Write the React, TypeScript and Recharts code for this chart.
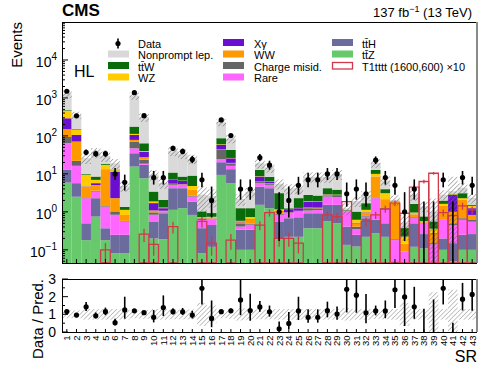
import React from 'react';
import { ComposedChart, Bar, Line, XAxis, YAxis, ErrorBar } from 'recharts';

// signal regions
const srLabels = [
  '1', '2', '3', '4', '5', '6', '7', '8', '9', '10', '11', '12', '13', '14', '15',
  '16', '17', '18', '19', '20', '21', '22', '23', '24', '25', '26', '27', '28', '29',
  '30', '31', '32', '33', '34', '35', '36', '37', '38', '39', '40', '41', '42', '43',
];

// background yields, bottom of the stack first
const ttZ = [5.9, 2.5, 0.18, 0.75, 0.18, 0.082, 0.082, 15.6, 7.7, 0.2, 0.19, 1.13, 1.25, 0.83, 0.082, 0.12, 9.4, 5.7, 0.1, 0.1, 1.53, 1.25, 0.2, 0.22, 0.22, 0.37, 0.37, 0.56, 0.5, 0.135, 0.122, 0.22, 0.275, 0.22, 0.03, 0.02, 0.12, 0.11, 0.02, 0.1, 0.05, 0.1, 0.1];
const ttH = [6.8, 3.2, 0.32, 1.54, 0.19, 0.166, 0.166, 19.4, 9.6, 0.36, 0.73, 3.07, 2.95, 1.04, 0.29, 0.33, 10.9, 7.6, 0.24, 0.24, 3.07, 2.95, 0.36, 0.46, 0.5, 0.55, 0.55, 0.97, 1.03, 0.275, 0.126, 0.46, 0.34, 0.28, 0.02, 0.02, 0.38, 0.15, 0.02, 0.1, 0.1, 0.15, 0.16];
const rare = [52, 10.6, 1.79, 1.13, 1.0, 0.59, 0.31, 12, 1.2, 0.28, 0.05, 0.94, 0.94, 0.66, 0.24, 0.16, 4.0, 3.0, 0.07, 0.12, 1.1, 0.94, 0.28, 0.24, 0.3, 0.16, 0.2, 1.0, 0.9, 0.6, 0.1, 0.07, 1.67, 0.63, 0.13, 0.05, 0.18, 0.24, 0.1, 0.42, 0.3, 0.37, 0.29];
const chargeMisId = [29, 5.7, 0.11, 0.18, 0.05, 0.19, 0.02, 24, 4.9, 0.13, 0.05, 0.26, 0.1, 0.12, 0.06, 0.02, 18.5, 2.7, 0.09, 0.03, 0.4, 0.3, 0.04, 0.03, 0.03, 0.17, 0.12, 0.17, 0.2, 0.02, 0.06, 0.03, 0.11, 0.12, 0.01, 0, 0.04, 0.02, 0.01, 0.014, 0.05, 0.06, 0.06];
const ww = [56, 49, 2.2, 1.5, 11.9, 1.27, 0.25, 7.5, 4.1, 0.12, 0.05, 0.1, 0.1, 1.14, 0.02, 0.02, 1.2, 0.5, 0.03, 0.13, 0.2, 0.2, 0.15, 0.02, 0.02, 0.05, 0.05, 0.05, 0.05, 0.02, 0.09, 0.18, 6.1, 0.82, 1.44, 0.054, 0.11, 0.02, 0.12, 0.81, 0.5, 1.39, 0.22];
const xGamma = [142, 35, 0.1, 0.6, 0, 9.2, 0, 27.5, 11.1, 0.61, 0.18, 1.45, 1.2, 0.05, 0.02, 0.02, 14, 6.3, 0.03, 0.02, 2.2, 0.7, 0.03, 0.21, 0.18, 0.57, 0.55, 0.1, 0.12, 0.02, 0.02, 0.02, 0.05, 0.05, 0.01, 0, 0.02, 0.01, 0.01, 0.01, 1.8, 0.02, 0.42];
const wz = [171, 38, 4.8, 1.25, 4.0, 1.0, 0.3, 7, 1.4, 0.18, 0.05, 0.1, 0.1, 0.96, 0.02, 0.07, 2, 0.5, 0.02, 0.09, 0.2, 0.1, 0.1, 0.02, 0.02, 0.05, 0.05, 0.05, 0.05, 0.02, 0.1, 0.15, 1.45, 0.98, 0.2, 0.08, 0.11, 0.02, 0.08, 0.17, 0.1, 0.2, 0.19];
const ttW = [17, 6, 0.4, 1.55, 1.2, 0.5, 0.23, 63, 24, 1.55, 0.77, 3.8, 1.86, 4.2, 0.3, 0.19, 27, 16.5, 0.67, 0.52, 4.0, 1.9, 1.95, 0.05, 1.03, 0.88, 0.8, 1.3, 1.0, 0.05, 0.4, 0.56, 2.7, 0.86, 0.05, 0.15, 0.66, 0.19, 0.2, 0.36, 0.1, 0.81, 0.11];
const nonprompt = [820, 205, 16.1, 28.5, 11.1, 6.0, 3.44, 974, 249, 6.2, 3.7, 30, 25.5, 16, 1.8, 1.67, 143, 42.2, 0.95, 2.05, 6.3, 6.5, 2.4, 2.85, 1.9, 5.6, 5.7, 4.1, 6.0, 0.1, 0.9, 1.06, 6.6, 2.74, 0.2, 0.13, 1.18, 0.64, 0.44, 0.85, 0.5, 1.2, 0.8];

// relative uncertainty on the total prediction
const relUnc = [0.22, 0.22, 0.3, 0.3, 0.3, 0.3, 0.3, 0.22, 0.25, 0.3, 0.3, 0.28, 0.28, 0.28, 0.65, 0.5, 0.22, 0.25, 0.35, 0.3, 0.28, 0.28, 0.3, 0.3, 0.3, 0.3, 0.3, 0.3, 0.3, 0.35, 0.3, 0.3, 0.25, 0.28, 0.3, 0.65, 0.3, 0.3, 1.25, 0.3, 1.4, 0.3, 0.3];

// T1tttt (1600,600) x10
const signal = [0, 0, 0, 0, 0.1, 0, 0, 0, 0.26, 0.14, 0, 0.41, 0, 0, 0.56, 0.15, 0, 0.18, 0, 0, 0.45, 0.95, 0.2, 0.2, 0.15, 0, 0, 0.83, 0.75, 1.87, 0, 0.56, 0.83, 1.2, 1.7, 0.92, 4.5, 6.3, 10.4, 0.95, 0.8, 1.44, 1.13];
const signalErr = [0, 0, 0, 0, 0.05, 0, 0, 0, 0.1, 0.07, 0, 0.14, 0, 0, 0.17, 0.08, 0, 0.08, 0, 0, 0.12, 0.2, 0.08, 0.08, 0.07, 0, 0, 0.2, 0.2, 0.35, 0, 0.15, 0.18, 0.25, 0.3, 0.2, 0.6, 0.7, 0.9, 0.2, 0.2, 0.3, 0.25];

// observed
const data = [1500, 340, 37, 34, 34, 10, 6, 1380, 342, 8, 8, 47, 39, 24, 7, 2, 264, 102, 4, 4, 27, 17, 1, 2, 5, 7, 7, 10, 10, 3, 4, 3, 23, 8, 5, 1, 4, 0, 0, 7, 0, 8, 5];
const dataErrLo = [38.2, 18.4, 6.1, 5.8, 5.8, 3.11, 2.38, 37.1, 18.5, 2.77, 2.77, 6.8, 6.2, 4.9, 2.58, 1.29, 16.2, 10.1, 1.91, 1.91, 5.2, 4.1, 0.83, 1.29, 2.16, 2.58, 2.58, 3.11, 3.11, 1.63, 1.91, 1.63, 4.8, 2.77, 2.16, 0.83, 1.91, 0, 0, 2.58, 0, 2.77, 2.16];
const dataErrHi = [39.2, 19.5, 7.1, 6.9, 6.9, 4.26, 3.58, 38.2, 19.5, 3.95, 3.95, 7.9, 7.3, 5.97, 3.77, 2.64, 17.3, 11.1, 3.16, 3.16, 6.26, 5.2, 2.3, 2.64, 3.38, 3.77, 3.77, 4.26, 4.26, 2.92, 3.16, 2.92, 5.86, 3.95, 3.38, 2.3, 3.16, 1.84, 1.84, 3.77, 1.84, 3.95, 3.38];

// axis ticks
const majorTicks = [0.1, 1, 10, 100, 1000, 10000];
const majorExp = ['\u22121', '0', '1', '2', '3', '4'];
const minorDecades = [0.01, 0.1, 1, 10, 100, 1000, 10000];
const minorMult = [2, 3, 4, 5, 6, 7, 8, 9];
const ratioTicks = [0, 0.5, 1, 1.5, 2, 2.5, 3];
const ratioLabels = ['0', '', '1', '', '2', '', '3'];

const Y_MIN = 0.045;
const Y_MAX = 100000;
const PL = 62;
const PR = 477;
const PT = 22;
const PB = 263;
const RT = 279;
const RB = 332;
const BAR_W = 9.64;
const FONT = '"Liberation Sans", Arial, Helvetica, sans-serif';

const layers = [
  { key: 'ttZ', values: ttZ, color: '#67c96b' },
  { key: 'ttH', values: ttH, color: '#6b6b9e' },
  { key: 'rare', values: rare, color: '#ff66ff' },
  { key: 'chargeMisId', values: chargeMisId, color: '#666666' },
  { key: 'ww', values: ww, color: '#ff9900' },
  { key: 'xGamma', values: xGamma, color: '#6a0fcf' },
  { key: 'wz', values: wz, color: '#ffcc00' },
  { key: 'ttW', values: ttW, color: '#0a6b0a' },
  { key: 'nonprompt', values: nonprompt, color: '#d9d9d9' },
];

const logTicks: number[] = [...majorTicks];
minorDecades.forEach((d) =>
  minorMult.forEach((m) => {
    const v = d * m;
    if (v > Y_MIN && v < Y_MAX) logTicks.push(v);
  })
);

const rows = srLabels.map((sr, i) => {
  const row: any = { sr };
  let pred = 0;
  layers.forEach((l) => {
    row[l.key] = l.values[i];
    pred += l.values[i];
  });
  const ratio = data[i] / pred;
  row.band = [Math.max(pred * (1 - relUnc[i]), Y_MIN), pred * (1 + relUnc[i])];
  row.sig = signal[i] > 0 ? signal[i] : Y_MIN;
  row.sigErr = signalErr[i];
  row.obs = data[i] > 0 ? data[i] : Y_MIN;
  row.obsErr = [dataErrLo[i], dataErrHi[i]];
  row.ratio = ratio;
  row.ratioErr = [Math.min(dataErrLo[i] / pred, ratio), Math.min(dataErrHi[i] / pred, 3 - ratio)];
  row.ratioBand = [Math.max(0, 1 - relUnc[i]), Math.min(3, 1 + relUnc[i])];
  row.empty = data[i] === 0;
  return row;
});

const LogTick = (props: any) => {
  const { y, payload } = props;
  const idx = majorTicks.indexOf(payload.value);
  const major = idx >= 0;
  return (
    <g>
      <line x1={PL} x2={PL + (major ? 6 : 3)} y1={y} y2={y} stroke="#000" />
      {major && (
        <text x={PL - 5} y={y + 7} textAnchor="end" fontSize={14} fill="#000">
          10
          <tspan dy={-7} fontSize={10}>
            {majorExp[idx]}
          </tspan>
        </text>
      )}
    </g>
  );
};

const RatioYTick = (props: any) => {
  const { y, payload } = props;
  const idx = ratioTicks.indexOf(payload.value);
  const label = ratioLabels[idx];
  return (
    <g>
      <line x1={PL} x2={PL + (label ? 6 : 3)} y1={y} y2={y} stroke="#000" />
      {label && (
        <text x={PL - 6} y={y + 5} textAnchor="end" fontSize={14} fill="#000">
          {label}
        </text>
      )}
    </g>
  );
};

const TopXTick = (props: any) => (
  <line x1={props.x} x2={props.x} y1={PB} y2={PB - 4} stroke="#000" />
);

const RatioXTick = (props: any) => (
  <g>
    <line x1={props.x} x2={props.x} y1={RB} y2={RB - 3} stroke="#000" />
    <text
      x={props.x + 3.4}
      y={RB + 3.5}
      transform={`rotate(-90 ${props.x + 3.4} ${RB + 3.5})`}
      textAnchor="end"
      fontSize={9.5}
      fill="#000"
    >
      {props.payload.value}
    </text>
  </g>
);

const DataDot = (props: any) => {
  const { cx, cy, payload, index } = props;
  if (payload.empty || cx == null || cy == null) return <g key={index} />;
  return <circle key={index} cx={cx} cy={cy} r={2.6} fill="#000" />;
};

const legendCols = [
  [
    { label: 'Data', kind: 'data', color: '#000' },
    { label: 'Nonprompt lep.', kind: 'box', color: '#d9d9d9' },
    { label: 'tt\u0304W', kind: 'box', color: '#0a6b0a' },
    { label: 'WZ', kind: 'box', color: '#ffcc00' },
  ],
  [
    { label: 'X\u03b3', kind: 'box', color: '#6a0fcf' },
    { label: 'WW', kind: 'box', color: '#ff9900' },
    { label: 'Charge misid.', kind: 'box', color: '#666666' },
    { label: 'Rare', kind: 'box', color: '#ff66ff' },
  ],
  [
    { label: 'tt\u0304H', kind: 'box', color: '#6b6b9e' },
    { label: 'tt\u0304Z', kind: 'box', color: '#67c96b' },
    { label: 'T1tttt (1600,600) \u00d710', kind: 'line', color: '#d0394a' },
  ],
];
const legendBoxX = [108, 223, 332];
const legendTextX = [138, 254, 362];
const legendRowY = [43.5, 55, 66.5, 78];

const abs: React.CSSProperties = { position: 'absolute', left: 0, top: 0 };

export default function App() {
  return (
    <div style={{ position: 'absolute', left: 0, top: 0, width: 498, height: 374, background: '#fff', fontFamily: FONT }}>
      <div style={abs}>
        <ComposedChart
          width={498}
          height={266}
          data={rows}
          margin={{ top: PT, right: 498 - PR, left: 0, bottom: 0 }}
          barSize={BAR_W}
          barGap={-BAR_W}
          barCategoryGap={0}
        >
          <defs>
            <pattern id="hatchTop" width="3.2" height="3.2" patternUnits="userSpaceOnUse" patternTransform="rotate(45)">
              <line x1="0" y1="0" x2="0" y2="3.2" stroke="#6e6e6e" strokeWidth="1" />
            </pattern>
          </defs>
          <XAxis dataKey="sr" height={266 - PB} interval={0} axisLine={false} tickLine={false} tick={<TopXTick />} />
          <YAxis
            scale="log"
            domain={[Y_MIN, Y_MAX]}
            allowDataOverflow
            ticks={logTicks}
            interval={0}
            width={PL}
            axisLine={false}
            tickLine={false}
            tick={<LogTick />}
          />
          {layers.map((l) => (
            <Bar key={l.key} dataKey={l.key} stackId="bkg" fill={l.color} isAnimationActive={false} />
          ))}
          <Bar dataKey="band" fill="url(#hatchTop)" isAnimationActive={false} />
          <Bar dataKey="sig" fill="none" stroke="#d0394a" strokeWidth={1.3} isAnimationActive={false}>
            <ErrorBar dataKey="sigErr" width={0} stroke="#d0394a" strokeWidth={1.3} />
          </Bar>
          <Line dataKey="obs" stroke="none" dot={DataDot} activeDot={false} isAnimationActive={false}>
            <ErrorBar dataKey="obsErr" direction="y" width={0} stroke="#000" strokeWidth={1.6} />
          </Line>
        </ComposedChart>
      </div>

      <div style={abs}>
        <ComposedChart
          width={498}
          height={374}
          data={rows}
          margin={{ top: RT, right: 498 - PR, left: 0, bottom: 0 }}
          barSize={BAR_W}
          barGap={-BAR_W}
          barCategoryGap={0}
        >
          <defs>
            <pattern id="hatchRatio" width="3.2" height="3.2" patternUnits="userSpaceOnUse" patternTransform="rotate(45)">
              <line x1="0" y1="0" x2="0" y2="3.2" stroke="#8a8a8a" strokeWidth="1" />
            </pattern>
          </defs>
          <XAxis dataKey="sr" height={374 - RB} interval={0} axisLine={false} tickLine={false} tick={<RatioXTick />} />
          <YAxis
            domain={[0, 3]}
            allowDataOverflow
            ticks={ratioTicks}
            interval={0}
            width={PL}
            axisLine={false}
            tickLine={false}
            tick={<RatioYTick />}
          />
          <Bar dataKey="ratioBand" fill="url(#hatchRatio)" isAnimationActive={false} />
          <Line dataKey="ratio" stroke="none" dot={DataDot} activeDot={false} isAnimationActive={false}>
            <ErrorBar dataKey="ratioErr" direction="y" width={0} stroke="#000" strokeWidth={1.6} />
          </Line>
        </ComposedChart>
      </div>

      <svg width={498} height={374} style={abs}>
        <rect x={PL + 0.5} y={PT + 0.5} width={PR - PL - 1} height={PB - PT} fill="none" stroke="#000" />
        <line x1={PR} x2={PR} y1={PT} y2={PB} stroke="#8a8a8a" strokeWidth={2} />
        <rect x={PL + 0.5} y={RT + 0.5} width={PR - PL - 1} height={RB - RT} fill="none" stroke="#000" />
        <line x1={PR} x2={PR} y1={RT} y2={RB} stroke="#8a8a8a" strokeWidth={2} />

        <text x={PL} y={16} fontSize={17} fontWeight="bold" fill="#000">CMS</text>
        <text x={472} y={16.5} fontSize={13} textAnchor="end" fill="#000">
          137 fb<tspan dy={-5} fontSize={9}>{'\u22121'}</tspan>
          <tspan dy={5}> (13 TeV)</tspan>
        </text>
        <text x={74} y={77} fontSize={16} fill="#000">HL</text>

        <text x={21.5} y={PT} fontSize={15} textAnchor="end" transform={`rotate(-90 21.5 ${PT})`} fill="#000">
          Events
        </text>
        <text x={43} y={RT} fontSize={15} textAnchor="end" transform={`rotate(-90 43 ${RT})`} fill="#000">
          Data / Pred.
        </text>
        <text x={PR} y={362} fontSize={16} textAnchor="end" fill="#000">SR</text>

        {legendCols.map((col, c) =>
          col.map((item, r) => {
            const y = legendRowY[r];
            const bx = legendBoxX[c];
            return (
              <g key={`${c}-${r}`}>
                {item.kind === 'data' && (
                  <g>
                    <line x1={bx + 10} x2={bx + 10} y1={y - 5} y2={y + 5} stroke="#000" strokeWidth={1.6} />
                    <circle cx={bx + 10} cy={y} r={2.6} fill="#000" />
                  </g>
                )}
                {item.kind === 'box' && <rect x={bx} y={y - 4.5} width={21} height={7} fill={item.color} />}
                {item.kind === 'line' && (
                  <rect x={bx + 0.5} y={y - 4} width={20} height={6.5} fill="none" stroke={item.color} strokeWidth={1.3} />
                )}
                <text x={legendTextX[c]} y={y + 4} fontSize={11} fill="#000">
                  {item.label}
                </text>
              </g>
            );
          })
        )}
      </svg>
    </div>
  );
}
